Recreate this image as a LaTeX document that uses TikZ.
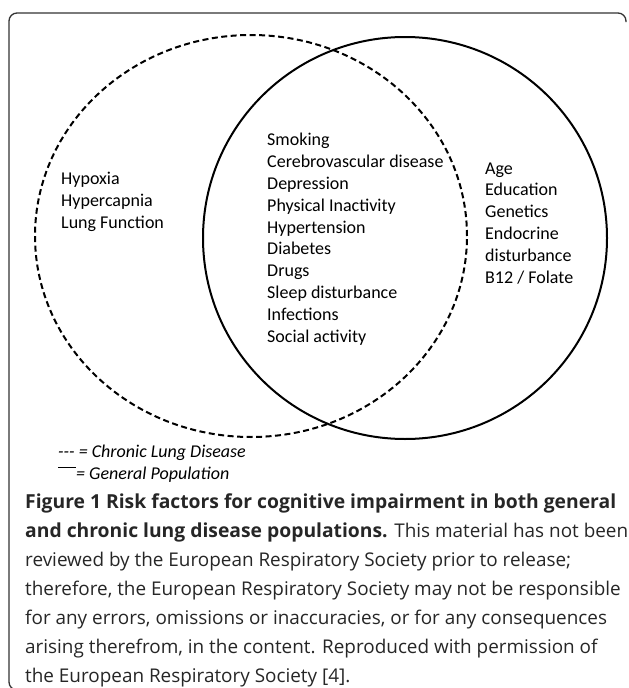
\documentclass[tikz,border=0pt]{standalone}
\usepackage{fontspec}
\setmainfont{Carlito}
\newfontfamily\capfont{Open Sans}
\newcommand\capbold[1]{{\fontsize{19.3}{29}\selectfont\bfseries #1}}
\usetikzlibrary{shapes.geometric}
\begin{document}
\begin{tikzpicture}[x=1pt,y=-1pt,
	ring/.style={ellipse, draw, line width=2pt, inner sep=0pt},
	factors/.style={align=left, anchor=base west, inner sep=0pt, font=\fontsize{18}{21.8}\selectfont},
	key/.style={anchor=base west, inner sep=0pt, font=\fontsize{18}{20}\selectfont\itshape}]
	\useasboundingbox (0,0) rectangle (629,688);
	\clip (0,0) rectangle (629,688);
	\draw[line width=1.3pt, black!80, rounded corners=8] (30,690) -- (9,690) -- (9,13) -- (626,13) -- (626,22);
	% the two populations
	\node[ring, dash pattern=on 6pt off 3.5pt, minimum width=432pt, minimum height=402pt] (cld) at (251,236) {};
	\node[ring, minimum width=404pt, minimum height=402pt] (gp) at (405,238) {};
	% base of a node = baseline of its last line
	\node[factors] (lungonly) at (61,228) {Hypoxia\\Hypercapnia\\Lung Function};
	\node[factors] (shared) at (267,342) {Smoking\\Cerebrovascular disease\\Depression\\Physical Inactivity\\Hypertension\\Diabetes\\Drugs\\Sleep disturbance\\Infections\\Social activity};
	\node[factors] (genonly) at (485,283) {Age\\Education\\Genetics\\Endocrine\\disturbance\\B12 / Folate};
	% key
	\node[key] (keycld) at (58,457) {-{}-{}- = Chronic Lung Disease};
	\node[key] (keygp) at (58,479) {\rule[.6em]{1em}{.09em}= General Population};
	\node[anchor=base west, inner sep=0pt, align=left, text=black!85, font=\capfont\fontsize{18.9}{29}\selectfont] (caption) at (25,682) {\capbold{Figure 1 Risk factors for cognitive impairment in both general}\\\capbold{and chronic lung disease populations.} This material has not been\\reviewed by the European Respiratory Society prior to release;\\therefore, the European Respiratory Society may not be responsible\\for any errors, omissions or inaccuracies, or for any consequences\\arising therefrom, in the content. Reproduced with permission of\\the European Respiratory Society [4].};
\end{tikzpicture}
\end{document}
